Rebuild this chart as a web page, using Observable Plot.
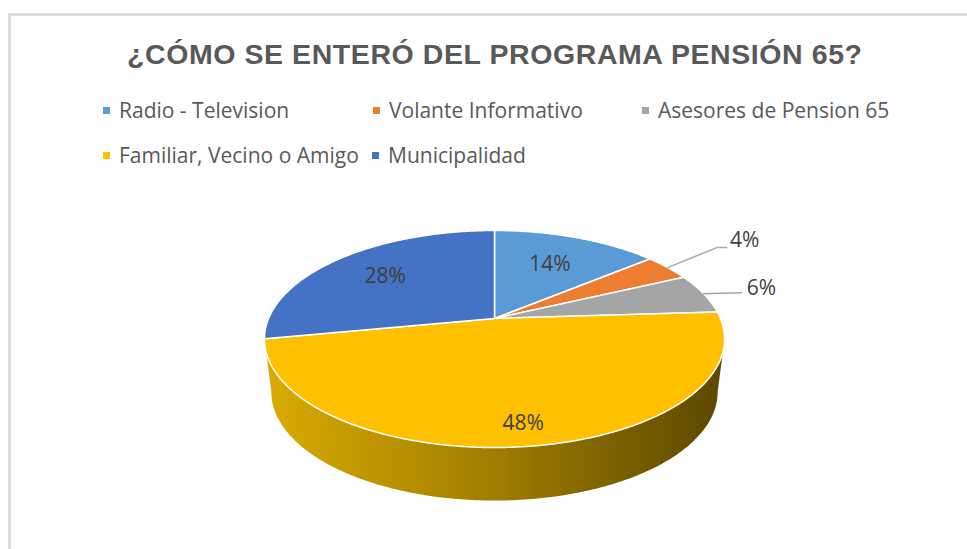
<!DOCTYPE html>
<html>
<head>
<meta charset="utf-8">
<script src="https://cdn.jsdelivr.net/npm/d3@7"></script>
<script src="https://cdn.jsdelivr.net/npm/@observablehq/plot@0.6"></script>
<style>
  html, body { margin: 0; padding: 0; background: #fff; }
  #wrap { position: relative; width: 967px; height: 549px; overflow: hidden; }
  #frame { position: absolute; left: 8px; top: 13px; width: 980px; height: 560px;
           border-left: 3px solid #dadada; border-top: 3px solid #dadada; pointer-events: none; }
  #head, #chart { display: block; }
</style>
</head>
<body>
<div id="wrap">
  <div id="frame"></div>
  <div id="head"></div>
  <div id="chart"></div>
</div>
<script>
// ---------------- data ----------------
const title = "¿CÓMO SE ENTERÓ DEL PROGRAMA PENSIÓN 65?";
const categories = ["Radio - Television", "Volante Informativo", "Asesores de Pension 65", "Familiar, Vecino o Amigo", "Municipalidad"];
const percents = [14, 4, 6, 48, 28];
const percentLabels = ["14%", "4%", "6%", "48%", "28%"];
const colors = ["#5B9BD5", "#ED7D31", "#A5A5A5", "#FFC000", "#4472C4"];

// ---------------- layout ----------------
const W = 967, H = 549, HEAD = 190;
const CX = 494, CY = 318;          // projected pie centre
const PA = 44.54, PC = -0.189, PK = 225.9; // perspective of the tilted disc
const DEPTH = 53, BOTTOM_SCALE = 0.97;
const labelRadius = [0.64, 1.0, 1.0, 0.85, 0.68];
const outside = { 1: { dx: 77, dy: -27, elbow: [-28, 7], end: [-18, 7] },
                  2: { dx: 58, dy: -5,  elbow: [-20, 4], end: [-20, 4] } };
const legendItems = [
  { i: 0, sx: 103, row: 0 }, { i: 1, sx: 373, row: 0 }, { i: 2, sx: 642, row: 0 },
  { i: 3, sx: 103, row: 1 }, { i: 4, sx: 372, row: 1 }
];
const legendBaseline = [118, 163];

function proj(thetaDeg, r) {
  const t = thetaDeg * Math.PI / 180;
  const u = r * Math.sin(t), v = -r * Math.cos(t);
  const den = 1 + PC * v;
  return [CX + PK * u / den, (PA * v + CY) / den];
}
function bottom([x, y]) { return [CX + BOTTOM_SCALE * (x - CX), y + DEPTH]; }

// ---------------- derived geometry from data ----------------
const total = d3.sum(percents);
let acc = 0;
const slices = percents.map((p, i) => {
  const a0 = acc / total * 360; acc += p; const a1 = acc / total * 360;
  return { i, cat: categories[i], a0, a1, mid: (a0 + a1) / 2 };
});

const slicePts = [];
for (const s of slices) {
  const c = proj(0, 0);
  slicePts.push({ i: s.i, cat: s.cat, x: c[0], y: c[1] });
  const n = Math.max(2, Math.ceil((s.a1 - s.a0) / 0.5));
  for (let k = 0; k <= n; k++) {
    const [x, y] = proj(s.a0 + (s.a1 - s.a0) * k / n, 1);
    slicePts.push({ i: s.i, cat: s.cat, x, y });
  }
}

// visible side wall (front silhouette)
const tR = Math.acos(PC) * 180 / Math.PI, tL = 360 - tR;
const wallPts = [];
for (let k = 0; k <= 200; k++) {
  const [x, y] = proj(tR + (tL - tR) * k / 200, 1);
  wallPts.push({ x, y });
}
for (let k = 200; k >= 0; k--) {
  const [x, y] = bottom(proj(tR + (tL - tR) * k / 200, 1));
  wallPts.push({ x, y });
}

const labelPts = slices.map(s => {
  const [x0, y0] = proj(s.mid, labelRadius[s.i]);
  const o = outside[s.i];
  return o ? { i: s.i, label: percentLabels[s.i], x: x0 + o.dx, y: y0 + o.dy, sx: x0, sy: y0, o }
           : { i: s.i, label: percentLabels[s.i], x: x0, y: y0 };
});
const leaderPts = [];
for (const l of labelPts) {
  if (!l.o) continue;
  leaderPts.push({ i: l.i, x: l.sx, y: l.sy });
  leaderPts.push({ i: l.i, x: l.x + l.o.elbow[0], y: l.y + l.o.elbow[1] });
  leaderPts.push({ i: l.i, x: l.x + l.o.end[0], y: l.y + l.o.end[1] });
}

// ---------------- header (title + legend) ----------------
const head = d3.select("#head").append("svg")
  .attr("width", W).attr("height", HEAD).style("display", "block");
head.append("text").text(title)
  .attr("x", 494.5).attr("y", 64).attr("text-anchor", "middle")
  .attr("textLength", 735).attr("lengthAdjust", "spacing")
  .attr("font-family", "'Liberation Sans', Arial, sans-serif").attr("font-weight", "bold")
  .attr("font-size", 28.5).attr("fill", "#595959");
const lg = head.selectAll("g.item").data(legendItems).join("g").attr("class", "item");
lg.append("rect")
  .attr("x", d => d.sx).attr("y", d => legendBaseline[d.row] - 11)
  .attr("width", 7).attr("height", 7).attr("fill", d => colors[d.i]);
lg.append("text").text(d => categories[d.i])
  .attr("x", d => d.sx + 16).attr("y", d => legendBaseline[d.row])
  .attr("font-family", "'Open Sans', sans-serif").attr("font-size", 21).attr("fill", "#595959");

// ---------------- pie with Plot ----------------
const defsMark = () => {
  const defs = d3.create("svg:defs");
  const g = defs.append("linearGradient").attr("id", "wallGrad")
    .attr("gradientUnits", "userSpaceOnUse")
    .attr("x1", CX - PK * 1.02).attr("x2", CX + PK * 1.02).attr("y1", 0).attr("y2", 0);
  g.append("stop").attr("offset", 0).attr("stop-color", "#DAAB00");
  g.append("stop").attr("offset", 0.5).attr("stop-color", "#A07D00");
  g.append("stop").attr("offset", 1).attr("stop-color", "#5C4700");
  return defs.node();
};

const plot = Plot.plot({
  width: W,
  height: H - HEAD,
  margin: 0,
  x: { domain: [0, W], range: [0, W], axis: null },
  y: { domain: [HEAD, H], range: [0, H - HEAD], axis: null },
  color: { domain: categories, range: colors },
  style: { background: "transparent", overflow: "visible" },
  marks: [
    defsMark,
    Plot.line(wallPts, { x: "x", y: "y", fill: "url(#wallGrad)", stroke: "none", curve: "linear-closed" }),
    Plot.line(slicePts, { x: "x", y: "y", z: "i", fill: "cat", stroke: "white", strokeWidth: 1.5,
                          strokeLinejoin: "round", curve: "linear-closed" }),
    Plot.line(leaderPts, { x: "x", y: "y", z: "i", stroke: "#A6A6A6", strokeWidth: 1.5, curve: "linear" }),
    Plot.text(labelPts, { x: "x", y: "y", text: "label", fill: "#404040", fontSize: 21,
                          fontFamily: "'Open Sans', sans-serif", textAnchor: "middle", lineAnchor: "middle" })
  ]
});
document.getElementById("chart").appendChild(plot);
</script>
</body>
</html>
